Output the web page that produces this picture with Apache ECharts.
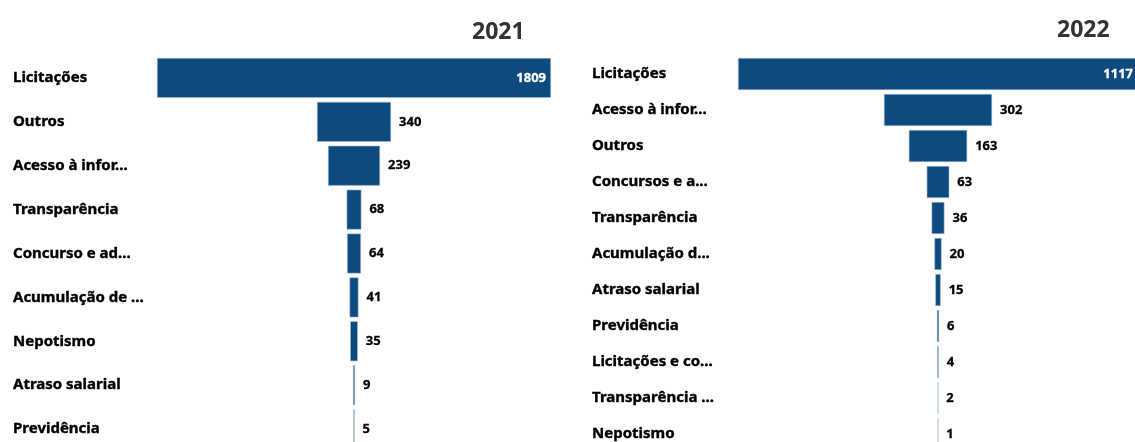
<!DOCTYPE html>
<html>
<head>
<meta charset="utf-8">
<script src="https://cdn.jsdelivr.net/npm/echarts@6/dist/echarts.min.js"></script>
<style>
  html, body { margin: 0; padding: 0; background: #fff; }
  #chart { width: 1135px; height: 442px; }
</style>
</head>
<body>
<div id="chart"></div>
<script>
var cats2021 = ['Licitações', 'Outros', 'Acesso à infor...', 'Transparência', 'Concurso e ad...',
    'Acumulação de ...', 'Nepotismo', 'Atraso salarial', 'Previdência'];
var vals2021 = [1809, 340, 239, 68, 64, 41, 35, 9, 5];

var cats2022 = ['Licitações', 'Acesso à infor...', 'Outros', 'Concursos e a...', 'Transparência',
    'Acumulação d...', 'Atraso salarial', 'Previdência', 'Licitações e co...', 'Transparência ...', 'Nepotismo'];
var vals2022 = [1117, 302, 163, 63, 36, 20, 15, 6, 4, 2, 1];

var barColor = '#0c4a80';
var font = '"Noto Sans", "Open Sans", sans-serif';

// pedaço transparente para centralizar as barras (estilo funil)
function padding(vals) {
    var max = Math.max.apply(null, vals);
    return vals.map(function (v) { return (max - v) / 2; });
}

function bars(vals) {
    return vals.map(function (v, i) {
        var item = { value: v };
        if (i === 0) {
            item.label = { position: 'insideRight', color: '#fff', distance: 5, textBorderColor: '#fff' };
        }
        return item;
    });
}

var myChart = echarts.init(document.getElementById('chart'));

function yAxisFor(cats, gi, margin) {
    return {
        type: 'category',
        gridIndex: gi,
        inverse: true,
        data: cats,
        axisLine: { show: false },
        axisTick: { show: false },
        axisLabel: {
            align: 'left',
            margin: margin,
            color: '#000',
            fontWeight: 'bold',
            fontSize: 15,
            fontFamily: font,
            textBorderColor: '#000',
            textBorderWidth: 0.4
        }
    };
}

function seriesFor(vals, gi, gap) {
    return [{
        type: 'bar',
        xAxisIndex: gi,
        yAxisIndex: gi,
        stack: 's' + gi,
        data: padding(vals),
        itemStyle: { color: 'transparent' },
        barCategoryGap: gap,
        silent: true
    }, {
        type: 'bar',
        xAxisIndex: gi,
        yAxisIndex: gi,
        stack: 's' + gi,
        data: bars(vals),
        barCategoryGap: gap,
        itemStyle: { color: barColor, borderColor: '#a9c0d6', borderWidth: 0.6 },
        label: {
            show: true,
            position: 'right',
            distance: 8,
            color: '#000',
            fontWeight: 'bold',
            fontSize: 13,
            fontFamily: font,
            textBorderColor: '#000',
            textBorderWidth: 0.3
        }
    }];
}

option = {
    animation: false,
    title: [{
        text: '2021',
        left: 467,
        top: 16,
        textStyle: { color: '#333', fontSize: 23, fontWeight: 'bold', fontFamily: font }
    }, {
        text: '2022',
        left: 1052,
        top: 14,
        textStyle: { color: '#333', fontSize: 23, fontWeight: 'bold', fontFamily: font }
    }],
    grid: [
        { left: 157, top: 56, width: 394, height: 395, outerBoundsMode: 'none' },
        { left: 738, top: 56, width: 400, height: 396, outerBoundsMode: 'none' }
    ],
    xAxis: [
        { type: 'value', gridIndex: 0, min: 0, max: 1809, show: false },
        { type: 'value', gridIndex: 1, min: 0, max: 1117, show: false }
    ],
    yAxis: [
        yAxisFor(cats2021, 0, 144),
        yAxisFor(cats2022, 1, 146)
    ],
    series: seriesFor(vals2021, 0, '9%').concat(seriesFor(vals2022, 1, '11%'))
};

myChart.setOption(option);
</script>
</body>
</html>
